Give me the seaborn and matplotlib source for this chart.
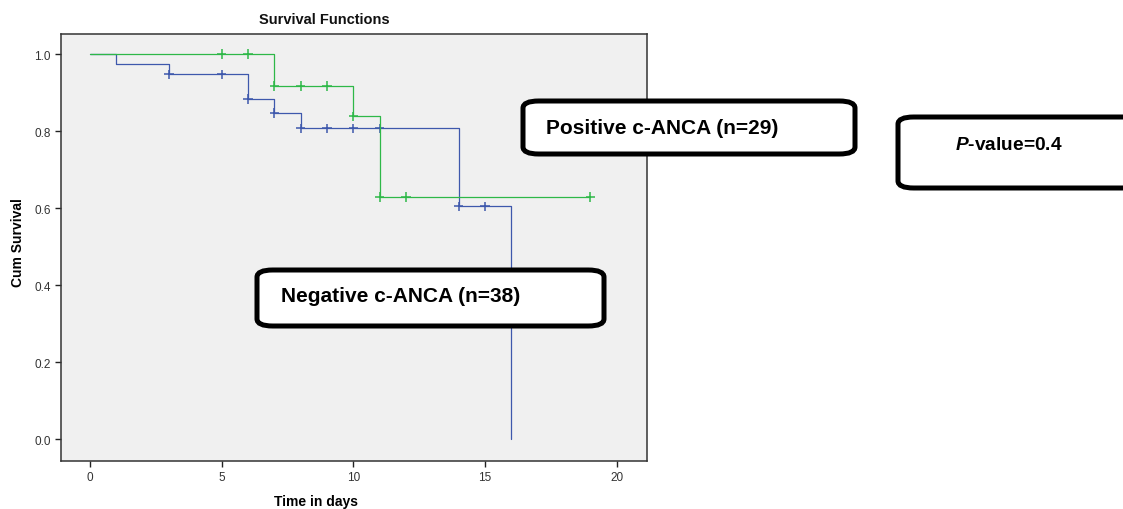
import numpy as np
import pandas as pd
import matplotlib
matplotlib.use("Agg")
import matplotlib.pyplot as plt
import seaborn as sns
from matplotlib.patches import FancyBboxPatch

# Kaplan-Meier steps
neg_time = [0, 1, 3, 6, 7, 8, 14, 16]
neg_surv = [1.0, 0.974, 0.947, 0.883, 0.847, 0.807, 0.604, 0.0]
neg_censor = [3, 5, 6, 7, 8, 9, 10, 11, 14, 15]

pos_time = [0, 7, 10, 11, 19]
pos_surv = [1.0, 0.917, 0.838, 0.629, 0.629]
pos_censor = [5, 6, 7, 8, 9, 10, 11, 12, 19]

neg_label = "Negative c-ANCA (n=38)"
pos_label = "Positive c-ANCA (n=29)"
p_label = "value=0.4"

blue = "#3E58AC"
green = "#2EB848"


def step_value(times, surv, t):
    # survival at time t from a right-continuous step function
    idx = np.searchsorted(times, t, side="right") - 1
    return surv[idx]


curves = pd.concat([
    pd.DataFrame({"time": neg_time, "surv": neg_surv, "group": "neg"}),
    pd.DataFrame({"time": pos_time, "surv": pos_surv, "group": "pos"}),
])
cens = pd.concat([
    pd.DataFrame({"time": neg_censor,
                  "surv": [step_value(neg_time, neg_surv, t) for t in neg_censor],
                  "group": "neg"}),
    pd.DataFrame({"time": pos_censor,
                  "surv": [step_value(pos_time, pos_surv, t) for t in pos_censor],
                  "group": "pos"}),
])

sns.set_style("ticks")
plt.rcParams['font.family'] = ['Liberation Sans', 'DejaVu Sans']
plt.rcParams['text.color'] = 'black'
plt.rcParams['mathtext.fontset'] = 'custom'
plt.rcParams['mathtext.bfit'] = 'Liberation Sans:italic:bold'

fig = plt.figure(figsize=(11.23, 5.10), dpi=100)
ax = fig.add_axes([61 / 1123, 48 / 510, 586 / 1123, 427 / 510])
ax.set_facecolor("#F0F0F0")

palette = {"neg": blue, "pos": green}
sns.lineplot(data=curves, x="time", y="surv", hue="group", palette=palette,
             drawstyle="steps-post", linewidth=0.9, estimator=None,
             legend=False, ax=ax)
sns.scatterplot(data=cens, x="time", y="surv", hue="group", palette=palette,
                marker="+", s=45, linewidth=1.1, legend=False, ax=ax)

ax.set_xlim(-1.1, 21.15)
ax.set_ylim(-0.057, 1.052)
ax.set_xticks([0, 5, 10, 15, 20])
ax.set_yticks([0.0, 0.2, 0.4, 0.6, 0.8, 1.0])
ax.set_yticklabels(["0.0", "0.2", "0.4", "0.6", "0.8", "1.0"])
ax.tick_params(axis="both", direction="out", length=4, width=1,
               labelsize=8.5, colors="#222222", labelcolor="#333333")
ax.set_xlabel("")
ax.set_ylabel("")
for sp in ax.spines.values():
    sp.set_visible(True)
    sp.set_color("#333333")
    sp.set_linewidth(1.1)

fig.text(324 / 1123, 1 - 20 / 510, "Survival Functions", ha="center",
         va="center", fontsize=10.5, fontweight="bold", color="#111111")
fig.text(316 / 1123, 1 - 502 / 510, "Time in days", ha="center",
         va="center", fontsize=10, fontweight="bold", color="black")
fig.text(18 / 1123, 1 - 243 / 510, "Cum Survival", ha="center",
         va="center", rotation=90, fontsize=10, fontweight="bold",
         color="black")

# annotation boxes (pixel positions)
boxes = [
    (523, 102, 332, 53),
    (257, 271, 347, 56),
    (898, 118, 240, 71),
]
for x0, y0, w, h in boxes:
    patch = FancyBboxPatch((x0 / 1123, 1 - (y0 + h) / 510), w / 1123, h / 510,
                           boxstyle="round,pad=0,rounding_size=0.014",
                           transform=fig.transFigure, facecolor="white",
                           edgecolor="black", linewidth=3.6, zorder=5,
                           clip_on=False)
    fig.add_artist(patch)

fig.text(546 / 1123, 1 - 129 / 510, pos_label, ha="left", va="center",
         fontsize=15, fontweight="bold", color="black", zorder=6)
fig.text(281 / 1123, 1 - 297 / 510, neg_label, ha="left", va="center",
         fontsize=15, fontweight="bold", color="black", zorder=6)
fig.text(955 / 1123, 1 - 146 / 510, r"$\bfit{P}$" + "-" + p_label,
         ha="left", va="center", fontsize=13.8, fontweight="bold",
         color="black", zorder=6)

fig.savefig("out.png", dpi=100)
